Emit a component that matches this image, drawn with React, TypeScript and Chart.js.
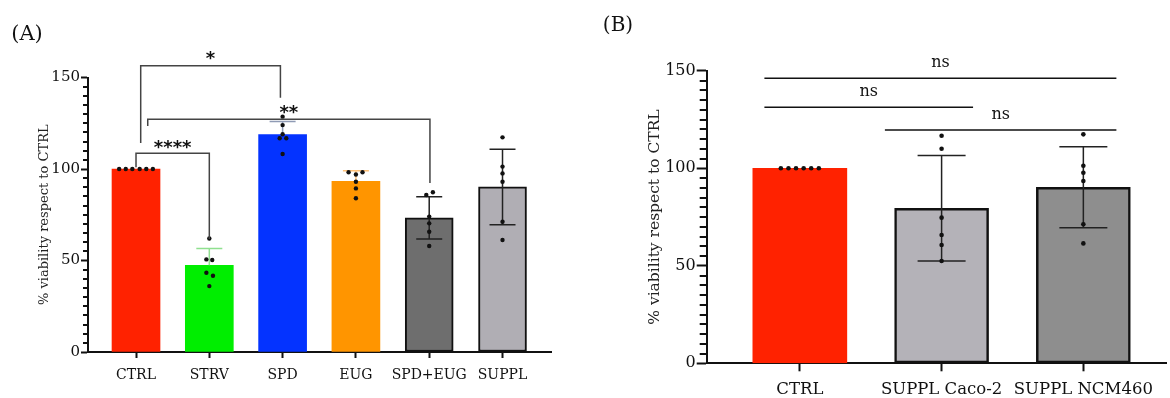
import React, { useEffect, useRef } from 'react';
import { Chart, registerables } from 'chart.js';
Chart.register(...registerables);

// ---------- Panel A data ----------
const CATS_A = ['CTRL', 'STRV', 'SPD', 'EUG', 'SPD+EUG', 'SUPPL'];
const MEAN_A = [100, 47.4, 118.8, 93.2, 73.3, 90.2];
const SD_A = [0, 9.1, 7.1, 5.8, 11.6, 20.6];
const PTS_A = [
  [100, 100, 100, 100, 100, 100],
  [62, 50.6, 50.3, 43.3, 41.7, 36],
  [128.6, 124, 119, 116.8, 116.8, 108.2],
  [98.2, 98.2, 97, 93, 89.4, 84],
  [87.3, 85.8, 74, 70.3, 65.7, 57.9],
  [117.3, 101.3, 97.6, 93, 71.2, 61.2],
];
const JIT_A = [
  [-0.23, -0.14, -0.05, 0.05, 0.14, 0.23],
  [0, -0.04, 0.04, -0.04, 0.05, 0],
  [0, 0, 0, -0.04, 0.05, 0],
  [-0.1, 0.09, 0, 0, 0, 0],
  [0.05, -0.04, 0, 0, 0, 0],
  [0, 0, 0, 0, 0, 0],
];
const BRACKETS_A = [
  { x1: 0.064, x2: 1.97, y: 156.4, d1: 114.2, d2: 139, label: '*', ly: 162.8 },
  { x1: 0.16, x2: 4.01, y: 127.2, d1: 123.5, d2: 92.3, label: '**', ly: 133.3 },
  { x1: 0, x2: 1, y: 108.6, d1: 101, d2: 61.7, label: '****', ly: 114.2 },
];

// ---------- Panel B data ----------
const CATS_B = ['CTRL', 'SUPPL Caco-2', 'SUPPL NCM460'];
const MEAN_B = [100, 79.5, 90.3];
const SD_B = [0, 27.1, 20.8];
const PTS_B = [
  [100, 100, 100, 100, 100, 100],
  [116.7, 110, 74.7, 65.8, 60.7, 52.5],
  [117.4, 101.3, 97.7, 93.5, 71.3, 61.5],
];
const JIT_B = [
  [-0.134, -0.08, -0.027, 0.027, 0.08, 0.134],
  [0, 0, 0, 0, 0, 0],
  [0, 0, 0, 0, 0, 0],
];
const BRACKETS_B = [
  { x1: -0.25, x2: 2.233, y: 146.2, label: 'ns', ly: 154 },
  { x1: -0.25, x2: 1.222, y: 131.3, label: 'ns', ly: 139.1 },
  { x1: 0.6, x2: 2.233, y: 119.6, label: 'ns', ly: 127.3 },
];

const Y_MIN = 0;
const Y_MAX = 150;
const Y_TICKS = [0, 50, 100, 150];
const MINOR_STEP = 5;
const Y_TITLE = '% viability respect to CTRL';

const SERIF = '"DejaVu Serif", serif';

const SPEC_A = {
  panel: '(A)', panelX: 27, panelY: 35, panelSize: 21,
  left: 0, width: 585,
  padding: { left: 0, right: 33.3, top: 77.5, bottom: 0 },
  yWidth: 88, xHeight: 46,
  xMin: -0.655, xMax: 5.671,
  cats: CATS_A, means: MEAN_A, sds: SD_A, pts: PTS_A, jit: JIT_A, brackets: BRACKETS_A,
  barColors: ['#ff2200', '#00ee00', '#0433ff', '#ff9500', '#6e6e6e', '#b0aeb4'],
  borderWidths: [0, 0, 0, 0, 2, 2],
  errColors: ['#111', '#8fe08f', '#8f9bb5', '#ffc27a', '#222', '#222'],
  errBoth: [false, false, false, false, true, true],
  cap: 13, barThickness: 48, dotR: 2.2,
  tickFont: 15, xFont: 14, titleFont: 13, titlePad: 37.2,
  yTickLen: 7, yTickPad: 1, minorLen: 5, xTickLen: 6, xPad: 9,
  bracketColor: '#444', bracketFont: 'bold 18px "DejaVu Sans", sans-serif', bracketIsStar: true,
};

const SPEC_B = {
  panel: '(B)', panelX: 33, panelY: 26, panelSize: 20,
  left: 585, width: 585,
  padding: { left: 0, right: 0, top: 70.8, bottom: 0 },
  yWidth: 121.7, xHeight: 34.7,
  xMin: -0.657, xMax: 2.583,
  cats: CATS_B, means: MEAN_B, sds: SD_B, pts: PTS_B, jit: JIT_B, brackets: BRACKETS_B,
  barColors: ['#ff2200', '#b4b2b8', '#8e8e8e'],
  borderWidths: [0, 2.5, 2.5],
  errColors: ['#111', '#222', '#222'],
  errBoth: [false, true, true],
  cap: 24, barThickness: 94, dotR: 2.3,
  tickFont: 16, xFont: 16.5, titleFont: 15.5, titlePad: 60.7,
  yTickLen: 10, yTickPad: 1, minorLen: 7, xTickLen: 8, xPad: 9,
  bracketColor: '#111', bracketFont: '16px "DejaVu Serif", serif', bracketIsStar: false,
};

function makeDecor(s: any) {
  return {
    id: 'decor',
    beforeDatasetDraw(chart: any, args: any) {
      if (args.index !== 1) return;
      const { ctx } = chart;
      const x = chart.scales.x;
      const y = chart.scales.y;
      s.means.forEach((m: number, i: number) => {
        const sd = s.sds[i];
        if (!sd) return;
        const px = x.getPixelForValue(i);
        const top = y.getPixelForValue(m + sd);
        const bot = y.getPixelForValue(m - sd);
        const mid = y.getPixelForValue(m);
        ctx.save();
        ctx.strokeStyle = s.errColors[i];
        ctx.lineWidth = 1.5;
        ctx.beginPath();
        ctx.moveTo(px, top);
        ctx.lineTo(px, s.errBoth[i] ? bot : mid);
        ctx.moveTo(px - s.cap, top);
        ctx.lineTo(px + s.cap, top);
        if (s.errBoth[i]) {
          ctx.moveTo(px - s.cap, bot);
          ctx.lineTo(px + s.cap, bot);
        }
        ctx.stroke();
        ctx.restore();
      });
    },
    afterDraw(chart: any) {
      const { ctx, chartArea } = chart;
      const x = chart.scales.x;
      const y = chart.scales.y;
      ctx.save();
      // minor ticks
      ctx.strokeStyle = '#111';
      ctx.lineWidth = 2;
      ctx.beginPath();
      for (let v = Y_MIN + MINOR_STEP; v < Y_MAX; v += MINOR_STEP) {
        if (Y_TICKS.includes(v)) continue;
        const py = Math.round(y.getPixelForValue(v));
        ctx.moveTo(chartArea.left - s.minorLen, py);
        ctx.lineTo(chartArea.left, py);
      }
      ctx.stroke();
      // brackets
      ctx.strokeStyle = s.bracketColor;
      ctx.lineWidth = 1.5;
      ctx.fillStyle = '#111';
      s.brackets.forEach((b: any) => {
        const x1 = x.getPixelForValue(b.x1);
        const x2 = x.getPixelForValue(b.x2);
        const py = y.getPixelForValue(b.y);
        ctx.beginPath();
        if (b.d1 !== undefined) {
          ctx.moveTo(x1, y.getPixelForValue(b.d1));
          ctx.lineTo(x1, py);
          ctx.lineTo(x2, py);
          ctx.lineTo(x2, y.getPixelForValue(b.d2));
        } else {
          ctx.moveTo(x1, py);
          ctx.lineTo(x2, py);
        }
        ctx.stroke();
        ctx.font = s.bracketFont;
        ctx.textAlign = 'center';
        ctx.textBaseline = 'alphabetic';
        const ly = y.getPixelForValue(b.ly);
        const off = s.bracketIsStar ? 18 * 0.56 : 4.2;
        ctx.fillText(b.label, (x1 + x2) / 2, ly + off);
      });
      // panel label
      ctx.font = `${s.panelSize}px ${SERIF}`;
      ctx.textAlign = 'center';
      ctx.textBaseline = 'middle';
      ctx.fillStyle = '#111';
      ctx.fillText(s.panel, s.panelX, s.panelY);
      ctx.restore();
    },
  };
}

function buildConfig(s: any): any {
  const barData = s.cats.map((_: string, i: number) => ({ x: i, y: s.means[i] }));
  const ptData = s.pts.flatMap((arr: number[], i: number) =>
    arr.map((v: number, j: number) => ({ x: i + s.jit[i][j], y: v }))
  );
  return {
    type: 'bar',
    data: {
      datasets: [
        {
          type: 'bar',
          data: barData,
          backgroundColor: s.barColors,
          borderColor: '#111',
          borderWidth: s.borderWidths,
          borderSkipped: false,
          barThickness: s.barThickness,
          order: 1,
        },
        {
          type: 'scatter',
          data: ptData,
          pointRadius: s.dotR,
          pointBackgroundColor: '#111',
          pointBorderWidth: 0,
          order: 0,
        },
      ],
    },
    options: {
      animation: false,
      responsive: false,
      devicePixelRatio: 1,
      events: [],
      layout: { padding: s.padding },
      plugins: { legend: { display: false }, tooltip: { enabled: false } },
      scales: {
        x: {
          type: 'linear',
          offset: false,
          min: s.xMin,
          max: s.xMax,
          afterBuildTicks: (sc: any) => {
            sc.ticks = s.cats.map((_: string, i: number) => ({ value: i }));
          },
          afterFit: (sc: any) => {
            sc.height = s.xHeight;
          },
          ticks: {
            callback: (v: number) => s.cats[v] ?? '',
            autoSkip: false,
            maxRotation: 0,
            font: { family: SERIF, size: s.xFont },
            color: '#111',
            padding: s.xPad,
          },
          grid: { offset: false, drawOnChartArea: false, drawTicks: true, tickLength: s.xTickLen, tickWidth: 2, color: '#111' },
          border: { display: true, width: 2, color: '#111' },
        },
        y: {
          type: 'linear',
          min: Y_MIN,
          max: Y_MAX,
          afterBuildTicks: (sc: any) => {
            sc.ticks = Y_TICKS.map((v) => ({ value: v }));
          },
          afterFit: (sc: any) => {
            sc.width = s.yWidth;
          },
          ticks: {
            font: { family: SERIF, size: s.tickFont },
            color: '#111',
            padding: s.yTickPad,
          },
          grid: { drawOnChartArea: false, drawTicks: true, tickLength: s.yTickLen, tickWidth: 2, color: '#111' },
          border: { display: true, width: 2, color: '#111' },
          title: {
            display: true,
            text: Y_TITLE,
            font: { family: SERIF, size: s.titleFont },
            color: '#222',
            padding: { top: s.titlePad, bottom: 0 },
          },
        },
      },
    },
    plugins: [makeDecor(s)],
  };
}

function Panel({ spec }: { spec: any }) {
  const ref = useRef<HTMLCanvasElement | null>(null);
  useEffect(() => {
    if (!ref.current) return;
    const chart = new Chart(ref.current, buildConfig(spec));
    return () => chart.destroy();
  }, [spec]);
  return (
    <canvas
      ref={ref}
      width={spec.width}
      height={398}
      style={{ position: 'absolute', left: spec.left, top: 0, width: spec.width, height: 398 }}
    />
  );
}

export default function App() {
  return (
    <div
      style={{
        position: 'fixed',
        left: 0,
        top: 0,
        width: 1170,
        height: 398,
        background: '#fff',
        overflow: 'hidden',
      }}
    >
      <Panel spec={SPEC_A} />
      <Panel spec={SPEC_B} />
    </div>
  );
}
